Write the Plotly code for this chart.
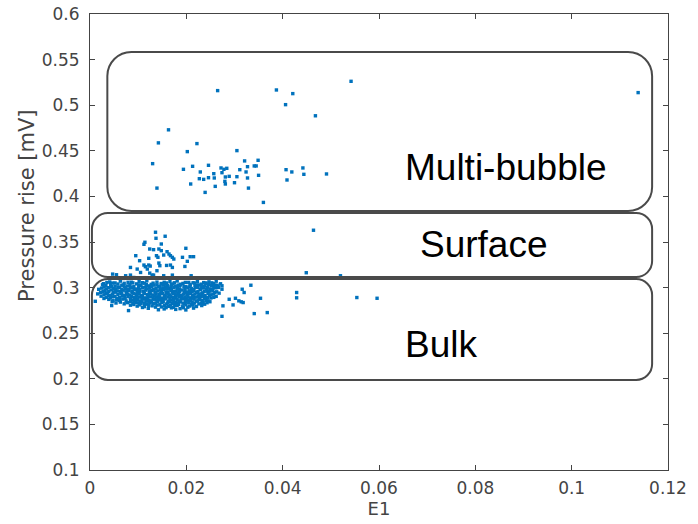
import plotly.graph_objects as go

# ---------------- data ----------------
multi_e1 = [0.0265, 0.0387, 0.0421, 0.0406, 0.0468, 0.0542, 0.1138, 0.0163, 0.0142, 0.0222,
            0.0202, 0.0305, 0.0130, 0.0194, 0.0213, 0.0246, 0.0229, 0.0227, 0.0236, 0.0246,
            0.0257, 0.0258, 0.0272, 0.0278, 0.0284, 0.0274, 0.0281, 0.0289, 0.0280, 0.0281,
            0.0209, 0.0260, 0.0239, 0.0139, 0.0300, 0.0305, 0.0311, 0.0321, 0.0324, 0.0327,
            0.0327, 0.0341, 0.0345, 0.0349, 0.0350, 0.0329, 0.0360, 0.0407, 0.0419, 0.0409,
            0.0442, 0.0444, 0.0491]
multi_p = [0.5160, 0.5167, 0.5127, 0.5006, 0.4884, 0.5262, 0.5138, 0.4730, 0.4587, 0.4579,
           0.4491, 0.4502, 0.4359, 0.4297, 0.4330, 0.4341, 0.4268, 0.4194, 0.4187, 0.4205,
           0.4249, 0.4202, 0.4312, 0.4297, 0.4308, 0.4260, 0.4213, 0.4220, 0.4165, 0.4136,
           0.4136, 0.4110, 0.4044, 0.4091, 0.4150, 0.4216, 0.4293, 0.4389, 0.4268, 0.4326,
           0.4202, 0.4334, 0.4334, 0.4396, 0.4231, 0.4091, 0.3934, 0.4293, 0.4268, 0.4180,
           0.4312, 0.4242, 0.4246]

surface_e1 = [0.0136, 0.0156, 0.0137, 0.0114, 0.0112, 0.0148, 0.0199, 0.0124, 0.0132, 0.0143,
              0.0148, 0.0160, 0.0164, 0.0167, 0.0171, 0.0153, 0.0095, 0.0138, 0.0141, 0.0122,
              0.0174, 0.0208, 0.0215, 0.0192, 0.0202, 0.0103, 0.0112, 0.0115, 0.0122, 0.0125,
              0.0143, 0.0145, 0.0159, 0.0167, 0.0171, 0.0084, 0.0197, 0.0098, 0.0105, 0.0119,
              0.0124, 0.0129, 0.0139, 0.0132, 0.0153, 0.0171, 0.0210, 0.0047, 0.0055, 0.0074,
              0.0084, 0.0091, 0.0063, 0.0070, 0.0464, 0.0449, 0.0520]
surface_p = [0.3607, 0.3563, 0.3541, 0.3497, 0.3475, 0.3478, 0.3431, 0.3423, 0.3416, 0.3423,
             0.3405, 0.3394, 0.3368, 0.3350, 0.3332, 0.3357, 0.3350, 0.3350, 0.3332, 0.3321,
             0.3313, 0.3339, 0.3339, 0.3332, 0.3288, 0.3295, 0.3247, 0.3229, 0.3247, 0.3236,
             0.3269, 0.3240, 0.3243, 0.3247, 0.3221, 0.3221, 0.3232, 0.3203, 0.3166, 0.3203,
             0.3159, 0.3137, 0.3185, 0.3137, 0.3130, 0.3137, 0.3130, 0.3148, 0.3141, 0.3130,
             0.3137, 0.3111, 0.3100, 0.3100, 0.3629, 0.3163, 0.3130]

outer_e1 = [0.0554, 0.0596, 0.0429, 0.0429, 0.0354, 0.0334, 0.0316, 0.0320, 0.0368, 0.0341,
            0.0302, 0.0309, 0.0314, 0.0318, 0.0297, 0.0289, 0.0274, 0.0274, 0.0276, 0.0274,
            0.0264, 0.0267, 0.0240, 0.0208, 0.0188, 0.0148, 0.0157, 0.0011, 0.0045, 0.0080]
outer_p = [0.2891, 0.2883, 0.2946, 0.2888, 0.2883, 0.3026, 0.2982, 0.2946, 0.2726, 0.2715,
           0.2883, 0.2855, 0.2844, 0.2836, 0.2810, 0.2872, 0.3020, 0.2982, 0.2800, 0.2685,
           0.3026, 0.3001, 0.3048, 0.3020, 0.3037, 0.3037, 0.3037, 0.2850, 0.2803, 0.2748]

bulk_e1 = [
    0.0041, 0.0063, 0.0079, 0.0102, 0.0118, 0.0139, 0.0166, 0.0181, 0.0205, 0.0223, 0.0247, 0.0262,
    0.0028, 0.0047, 0.0058, 0.0071, 0.0089, 0.0097, 0.0113, 0.0127, 0.0148, 0.0159, 0.0172, 0.0193,
    0.0214, 0.0231, 0.0241, 0.0256, 0.0271,
    0.0033, 0.0052, 0.0066, 0.0078, 0.0091, 0.0106, 0.0121, 0.0133, 0.0144, 0.0161, 0.0178, 0.0187,
    0.0199, 0.0218, 0.0227, 0.0238, 0.0252, 0.0266,
    0.0024, 0.0038, 0.0049, 0.0061, 0.0074, 0.0086, 0.0098, 0.0109, 0.0124, 0.0137, 0.0151, 0.0163,
    0.0174, 0.0186, 0.0203, 0.0211, 0.0224, 0.0236, 0.0249, 0.0261,
    0.0031, 0.0044, 0.0057, 0.0069, 0.0081, 0.0093, 0.0104, 0.0116, 0.0129, 0.0141, 0.0153, 0.0168,
    0.0179, 0.0191, 0.0207, 0.0216, 0.0229, 0.0243, 0.0255,
    0.0022, 0.0036, 0.0053, 0.0064, 0.0076, 0.0088, 0.0101, 0.0112, 0.0123, 0.0136, 0.0147, 0.0158,
    0.0171, 0.0183, 0.0196, 0.0209, 0.0221, 0.0234, 0.0246, 0.0259, 0.0268,
    0.0029, 0.0042, 0.0058, 0.0072, 0.0083, 0.0096, 0.0107, 0.0119, 0.0131, 0.0143, 0.0156, 0.0165,
    0.0177, 0.0189, 0.0201, 0.0213, 0.0226, 0.0239, 0.0251,
    0.0034, 0.0047, 0.0061, 0.0079, 0.0092, 0.0103, 0.0114, 0.0126, 0.0138, 0.0149, 0.0162, 0.0173,
    0.0185, 0.0197, 0.0208, 0.0219, 0.0231, 0.0244, 0.0257,
    0.0039, 0.0055, 0.0068, 0.0087, 0.0099, 0.0111, 0.0122, 0.0134, 0.0146, 0.0157, 0.0169, 0.0181,
    0.0193, 0.0204, 0.0216, 0.0228, 0.0241,
    0.0046, 0.0063, 0.0084, 0.0095, 0.0108, 0.0119, 0.0128, 0.0141, 0.0152, 0.0166, 0.0178, 0.0188,
    0.0199, 0.0212, 0.0223, 0.0235, 0.0249,
    0.0071, 0.0091, 0.0106, 0.0117, 0.0132, 0.0145, 0.0159, 0.0171, 0.0184, 0.0196, 0.0211, 0.0226, 0.0238,
    0.0098, 0.0113, 0.0129, 0.0148, 0.0163, 0.0176, 0.0192, 0.0207, 0.0221,
    0.0121, 0.0154, 0.0169, 0.0187, 0.0215,
]
bulk_p = [
    0.3062, 0.3071, 0.3058, 0.3068, 0.3075, 0.3060, 0.3066, 0.3072, 0.3057, 0.3069, 0.3063, 0.3070,
    0.3043, 0.3050, 0.3039, 0.3047, 0.3052, 0.3041, 0.3048, 0.3036, 0.3045, 0.3051, 0.3040, 0.3046,
    0.3053, 0.3038, 0.3049, 0.3044, 0.3042,
    0.3021, 0.3015, 0.3026, 0.3018, 0.3012, 0.3024, 0.3019, 0.3027, 0.3014, 0.3022, 0.3016, 0.3025,
    0.3011, 0.3020, 0.3028, 0.3017, 0.3023, 0.3013,
    0.2994, 0.2999, 0.2988, 0.3002, 0.2991, 0.2997, 0.2985, 0.3000, 0.2993, 0.2989, 0.2998, 0.2992,
    0.3003, 0.2987, 0.2996, 0.2990, 0.3001, 0.2995, 0.2986, 0.2997,
    0.2968, 0.2974, 0.2963, 0.2971, 0.2966, 0.2977, 0.2961, 0.2972, 0.2969, 0.2964, 0.2975, 0.2967,
    0.2960, 0.2973, 0.2965, 0.2970, 0.2976, 0.2962, 0.2968,
    0.2946, 0.2941, 0.2950, 0.2938, 0.2947, 0.2943, 0.2952, 0.2939, 0.2944, 0.2949, 0.2936, 0.2945,
    0.2951, 0.2940, 0.2948, 0.2937, 0.2946, 0.2942, 0.2953, 0.2944, 0.2939,
    0.2921, 0.2916, 0.2925, 0.2913, 0.2919, 0.2927, 0.2914, 0.2922, 0.2918, 0.2926, 0.2912, 0.2920,
    0.2924, 0.2915, 0.2923, 0.2917, 0.2928, 0.2911, 0.2921,
    0.2893, 0.2898, 0.2889, 0.2901, 0.2891, 0.2896, 0.2887, 0.2899, 0.2894, 0.2886, 0.2897, 0.2890,
    0.2900, 0.2892, 0.2888, 0.2895, 0.2902, 0.2889, 0.2893,
    0.2871, 0.2866, 0.2874, 0.2863, 0.2869, 0.2876, 0.2862, 0.2872, 0.2867, 0.2875, 0.2864, 0.2870,
    0.2877, 0.2865, 0.2873, 0.2868, 0.2861,
    0.2846, 0.2841, 0.2849, 0.2838, 0.2845, 0.2851, 0.2840, 0.2847, 0.2843, 0.2850, 0.2837, 0.2844,
    0.2848, 0.2839, 0.2852, 0.2842, 0.2845,
    0.2822, 0.2815, 0.2826, 0.2818, 0.2824, 0.2812, 0.2820, 0.2827, 0.2816, 0.2823, 0.2814, 0.2821, 0.2818,
    0.2797, 0.2791, 0.2800, 0.2788, 0.2795, 0.2802, 0.2790, 0.2798, 0.2793,
    0.2773, 0.2766, 0.2778, 0.2769, 0.2775,
]

bulk2_e1 = [
    0.0035, 0.0052, 0.0086, 0.0109, 0.0131, 0.0154, 0.0175, 0.0198, 0.0217, 0.0236, 0.0253,
    0.0026, 0.0043, 0.0069, 0.0083, 0.0102, 0.0117, 0.0139, 0.0153, 0.0169, 0.0183, 0.0208, 0.0222,
    0.0246, 0.0259,
    0.0029, 0.0045, 0.0058, 0.0072, 0.0084, 0.0101, 0.0115, 0.0128, 0.0142, 0.0157, 0.0168, 0.0181,
    0.0195, 0.0206, 0.0219, 0.0232, 0.0244, 0.0257,
    0.0018, 0.0034, 0.0054, 0.0066, 0.0079, 0.0092, 0.0103, 0.0118, 0.0132, 0.0146, 0.0157, 0.0169,
    0.0181, 0.0197, 0.0214, 0.0229, 0.0242, 0.0254,
    0.0027, 0.0039, 0.0049, 0.0063, 0.0075, 0.0087, 0.0098, 0.0111, 0.0124, 0.0135, 0.0148, 0.0162,
    0.0174, 0.0186, 0.0201, 0.0212, 0.0224, 0.0237, 0.0249, 0.0263,
    0.0016, 0.0033, 0.0047, 0.0066, 0.0078, 0.0091, 0.0102, 0.0113, 0.0126, 0.0137, 0.0151, 0.0162,
    0.0172, 0.0184, 0.0194, 0.0207, 0.0218, 0.0232, 0.0245, 0.0256,
    0.0023, 0.0038, 0.0052, 0.0067, 0.0086, 0.0097, 0.0109, 0.0121, 0.0133, 0.0144, 0.0155, 0.0168,
    0.0179, 0.0191, 0.0203, 0.0214, 0.0225, 0.0237, 0.0248, 0.0262,
    0.0029, 0.0042, 0.0057, 0.0073, 0.0084, 0.0096, 0.0108, 0.0119, 0.0131, 0.0143, 0.0155, 0.0166,
    0.0178, 0.0189, 0.0201, 0.0213, 0.0226, 0.0238, 0.0251,
    0.0048, 0.0061, 0.0075, 0.0092, 0.0104, 0.0116, 0.0127, 0.0139, 0.0151, 0.0163, 0.0174, 0.0186,
    0.0198, 0.0209, 0.0221, 0.0233, 0.0245,
    0.0054, 0.0078, 0.0089, 0.0101, 0.0113, 0.0124, 0.0136, 0.0149, 0.0161, 0.0173, 0.0183, 0.0193,
    0.0205, 0.0217, 0.0231, 0.0243,
    0.0084, 0.0103, 0.0122, 0.0139, 0.0155, 0.0167, 0.0181, 0.0199, 0.0214, 0.0232,
    0.0109, 0.0136, 0.0158, 0.0173, 0.0194, 0.0203,
    0.0142, 0.0178, 0.0199,
]
bulk2_p = [
    0.3056, 0.3051, 0.3059, 0.3054, 0.3049, 0.3058, 0.3053, 0.3057, 0.3050, 0.3055, 0.3052,
    0.3031, 0.3035, 0.3028, 0.3033, 0.3030, 0.3036, 0.3029, 0.3034, 0.3032, 0.3027, 0.3035, 0.3030,
    0.3033, 0.3029,
    0.3006, 0.3010, 0.3004, 0.3008, 0.3003, 0.3009, 0.3005, 0.3011, 0.3007, 0.3002, 0.3008, 0.3004,
    0.3010, 0.3006, 0.3003, 0.3009, 0.3005, 0.3007,
    0.2981, 0.2985, 0.2979, 0.2983, 0.2978, 0.2984, 0.2980, 0.2986, 0.2982, 0.2977, 0.2983, 0.2979,
    0.2985, 0.2981, 0.2978, 0.2984, 0.2980, 0.2982,
    0.2956, 0.2959, 0.2953, 0.2958, 0.2954, 0.2960, 0.2955, 0.2961, 0.2957, 0.2952, 0.2958, 0.2954,
    0.2960, 0.2956, 0.2953, 0.2959, 0.2955, 0.2957, 0.2961, 0.2954,
    0.2931, 0.2935, 0.2929, 0.2933, 0.2928, 0.2934, 0.2930, 0.2936, 0.2932, 0.2927, 0.2933, 0.2929,
    0.2935, 0.2931, 0.2928, 0.2934, 0.2930, 0.2932, 0.2936, 0.2929,
    0.2906, 0.2910, 0.2904, 0.2908, 0.2903, 0.2909, 0.2905, 0.2911, 0.2907, 0.2902, 0.2908, 0.2904,
    0.2910, 0.2906, 0.2903, 0.2909, 0.2905, 0.2907, 0.2911, 0.2904,
    0.2881, 0.2885, 0.2879, 0.2883, 0.2878, 0.2884, 0.2880, 0.2886, 0.2882, 0.2877, 0.2883, 0.2879,
    0.2885, 0.2881, 0.2878, 0.2884, 0.2880, 0.2882, 0.2886,
    0.2856, 0.2860, 0.2854, 0.2858, 0.2853, 0.2859, 0.2855, 0.2861, 0.2857, 0.2852, 0.2858, 0.2854,
    0.2860, 0.2856, 0.2853, 0.2859, 0.2855,
    0.2831, 0.2835, 0.2829, 0.2833, 0.2828, 0.2834, 0.2830, 0.2836, 0.2832, 0.2827, 0.2833, 0.2829,
    0.2835, 0.2831, 0.2828, 0.2834,
    0.2807, 0.2811, 0.2805, 0.2809, 0.2804, 0.2810, 0.2806, 0.2812, 0.2808, 0.2803,
    0.2782, 0.2786, 0.2780, 0.2784, 0.2779, 0.2785,
    0.2757, 0.2761, 0.2755,
]

x_ticks = [0, 0.02, 0.04, 0.06, 0.08, 0.1, 0.12]
x_tick_labels = ["0", "0.02", "0.04", "0.06", "0.08", "0.1", "0.12"]
y_ticks = [0.1, 0.15, 0.2, 0.25, 0.3, 0.35, 0.4, 0.45, 0.5, 0.55, 0.6]
y_tick_labels = ["0.1", "0.15", "0.2", "0.25", "0.3", "0.35", "0.4", "0.45", "0.5", "0.55", "0.6"]
x_title = "E1"
y_title = "Pressure rise [mV]"

# region boxes (E1 from/to, P from/to, corner radius px) and labels
region_names = ["Multi-bubble", "Surface", "Bulk"]
region_x0 = [0.0036, 0.0004, 0.0004]
region_x1 = [0.1167, 0.1167, 0.1167]
region_y0 = [0.3840, 0.3116, 0.1987]
region_y1 = [0.5583, 0.3818, 0.3094]
region_r = [24, 16, 16]
label_x = [0.0863, 0.0818, 0.0728]
label_y = [0.4320, 0.3475, 0.2375]

# ---------------- layout ----------------
W, H = 698, 524
ML, MR, MT, MB = 90, 30, 14, 54
XR = [0, 0.12]
YR = [0.1, 0.6]
pw = W - ML - MR
ph = H - MT - MB
sx = (XR[1] - XR[0]) / pw
sy = (YR[1] - YR[0]) / ph


def rounded_path(x0, x1, y0, y1, r):
    rx, ry = r * sx, r * sy
    k = 0.4477  # 1 - 0.5523 (cubic circle approximation)
    return (
        f"M {x0+rx},{y1} L {x1-rx},{y1} "
        f"C {x1-rx*k},{y1} {x1},{y1-ry*k} {x1},{y1-ry} "
        f"L {x1},{y0+ry} "
        f"C {x1},{y0+ry*k} {x1-rx*k},{y0} {x1-rx},{y0} "
        f"L {x0+rx},{y0} "
        f"C {x0+rx*k},{y0} {x0},{y0+ry*k} {x0},{y0+ry} "
        f"L {x0},{y1-ry} "
        f"C {x0},{y1-ry*k} {x0+rx*k},{y1} {x0+rx},{y1} Z"
    )


all_e1 = bulk_e1 + bulk2_e1 + surface_e1 + outer_e1 + multi_e1
all_p = bulk_p + bulk2_p + surface_p + outer_p + multi_p

fig = go.Figure()
fig.add_trace(go.Scatter(
    x=all_e1, y=all_p, mode="markers",
    marker=dict(symbol="square", size=3.4, color="#0072BD", line=dict(width=0)),
    hoverinfo="x+y", showlegend=False,
))

shapes = []
annotations = []
for i, name in enumerate(region_names):
    shapes.append(dict(
        type="path", xref="x", yref="y",
        path=rounded_path(region_x0[i], region_x1[i], region_y0[i], region_y1[i], region_r[i]),
        line=dict(color="#4a4a4a", width=2), fillcolor="rgba(0,0,0,0)", layer="above",
    ))
    annotations.append(dict(
        x=label_x[i], y=label_y[i], xref="x", yref="y", text=name, showarrow=False,
        xanchor="center", yanchor="middle",
        font=dict(family="Liberation Sans, Arial, sans-serif", size=37, color="#000000"),
    ))

axis_font = dict(family="DejaVu Sans, sans-serif", size=17, color="#444444")
xtitle_font = dict(family="DejaVu Sans, sans-serif", size=18, color="#444444")
ytitle_font = dict(family="DejaVu Sans, sans-serif", size=21, color="#444444")

# y-axis title (sits above the axis centre in the original figure)
annotations.append(dict(
    x=(27 - ML) / pw, y=1 - (206 - MT) / ph, xref="paper", yref="paper",
    text=y_title, textangle=-90, showarrow=False, xanchor="center", yanchor="middle",
    font=ytitle_font,
))

fig.update_layout(
    width=W, height=H,
    margin=dict(l=ML, r=MR, t=MT, b=MB, pad=0),
    paper_bgcolor="white", plot_bgcolor="white",
    shapes=shapes, annotations=annotations,
    showlegend=False,
    xaxis=dict(
        range=XR, tickvals=x_ticks, ticktext=x_tick_labels,
        ticks="inside", ticklen=5, tickwidth=1, tickcolor="#444444",
        showline=True, linecolor="#444444", linewidth=1, mirror="ticks",
        showgrid=False, zeroline=False, tickfont=axis_font, automargin=False,
        ticklabelstandoff=3,
        title=dict(text=x_title, font=xtitle_font, standoff=1),
    ),
    yaxis=dict(
        range=YR, tickvals=y_ticks, ticktext=y_tick_labels,
        ticks="inside", ticklen=5, tickwidth=1, tickcolor="#444444",
        showline=True, linecolor="#444444", linewidth=1, mirror="ticks",
        showgrid=False, zeroline=False, tickfont=axis_font, automargin=False,
        ticklabelstandoff=6,
    ),
)

fig.write_html("out.html")
